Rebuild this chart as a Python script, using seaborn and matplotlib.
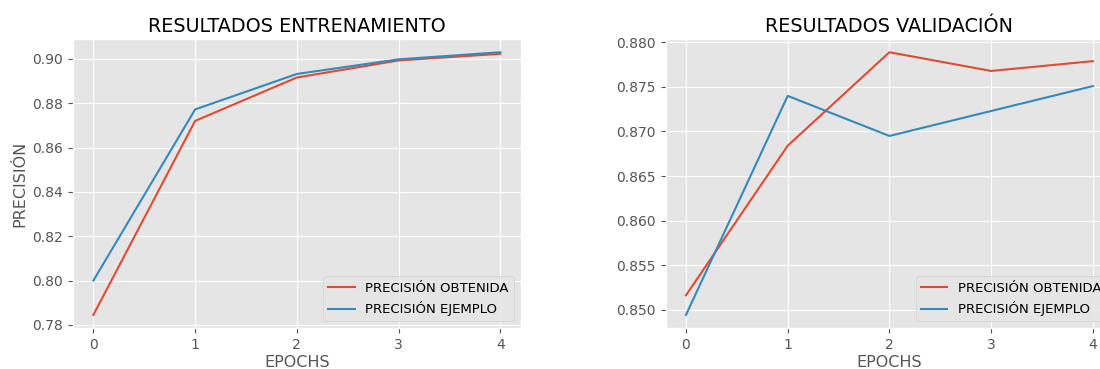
import pandas as pd
import matplotlib
matplotlib.use('Agg')
import matplotlib.pyplot as plt
import seaborn as sns

# datos
epochs = [0, 1, 2, 3, 4]
train_obtenida = [0.7845, 0.8720, 0.8916, 0.8993, 0.9023]
train_ejemplo = [0.8000, 0.8772, 0.8932, 0.8998, 0.9030]
val_obtenida = [0.8516, 0.8684, 0.8789, 0.8768, 0.8779]
val_ejemplo = [0.8494, 0.8740, 0.8695, 0.8723, 0.8751]

serie_obtenida = 'PRECISIÓN OBTENIDA'
serie_ejemplo = 'PRECISIÓN EJEMPLO'

plt.style.use('ggplot')


def armar_tabla(obtenida, ejemplo):
    return pd.DataFrame({
        'epoch': epochs * 2,
        'precision': obtenida + ejemplo,
        'serie': [serie_obtenida] * len(epochs) + [serie_ejemplo] * len(epochs),
    })


fig, (ax1, ax2) = plt.subplots(1, 2, figsize=(11, 3.69), dpi=100)
fig.subplots_adjust(left=0.0664, right=1.012, top=0.894, bottom=0.111, wspace=0.324)

paleta = {serie_obtenida: '#E24A33', serie_ejemplo: '#348ABD'}

sns.lineplot(data=armar_tabla(train_obtenida, train_ejemplo), x='epoch', y='precision',
             hue='serie', palette=paleta, linewidth=1.5, ax=ax1)
sns.lineplot(data=armar_tabla(val_obtenida, val_ejemplo), x='epoch', y='precision',
             hue='serie', palette=paleta, linewidth=1.5, ax=ax2)

ax1.set_title('RESULTADOS ENTRENAMIENTO', fontsize=13.8, pad=5)
ax2.set_title('RESULTADOS VALIDACIÓN', fontsize=13.8, pad=5)
ax1.set_ylabel('PRECISIÓN', fontsize=11.5)
ax2.set_ylabel('')
for ax in (ax1, ax2):
    ax.set_xlabel('EPOCHS', fontsize=11.5, labelpad=2)
    ax.set_xticks(epochs)
    ax.tick_params(labelsize=10)
    ax.legend(loc='lower right', fontsize=9.5)

ax1.set_yticks([0.78, 0.80, 0.82, 0.84, 0.86, 0.88, 0.90])
ax2.set_yticks([0.850, 0.855, 0.860, 0.865, 0.870, 0.875, 0.880])
ax1.yaxis.set_major_formatter(matplotlib.ticker.FormatStrFormatter('%.2f'))
ax2.yaxis.set_major_formatter(matplotlib.ticker.FormatStrFormatter('%.3f'))

fig.savefig('out.png', dpi=100)
